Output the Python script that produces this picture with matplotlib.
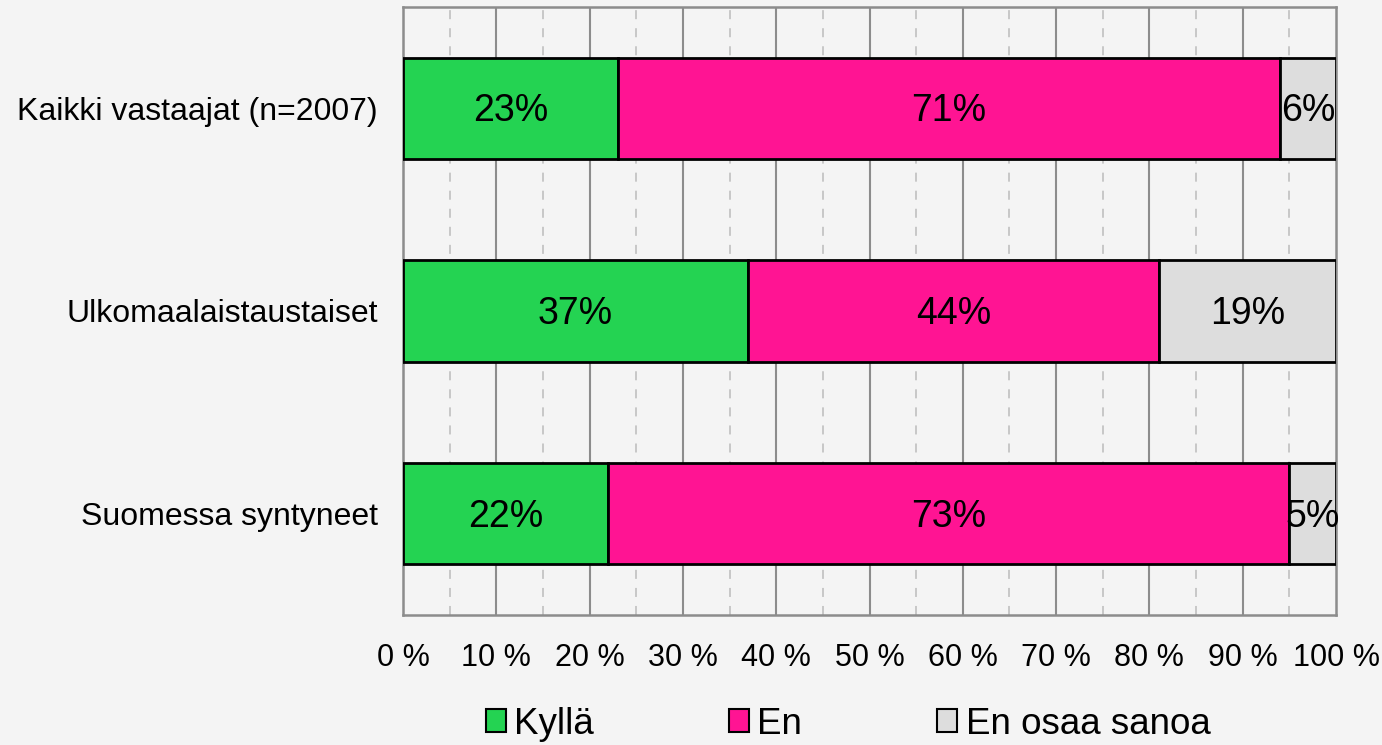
import matplotlib
matplotlib.use('Agg')
import matplotlib.pyplot as plt
from matplotlib.patches import Patch

plt.rcParams['font.family'] = ['Liberation Sans', 'DejaVu Sans']

# Kysely: vastausjakaumat ryhmittäin (%)
groups = ['Kaikki vastaajat (n=2007)', 'Ulkomaalaistaustaiset', 'Suomessa syntyneet']
series_names = ['Kyllä', 'En', 'En osaa sanoa']
kylla = [23, 37, 22]
en = [71, 44, 73]
eos = [6, 19, 5]
tick_vals = [0, 10, 20, 30, 40, 50, 60, 70, 80, 90, 100]

COLORS = ['#24D352', '#FF1493', '#DDDDDD']
BG = '#F4F4F4'

fig = plt.figure(figsize=(13.82, 7.45), dpi=100, facecolor=BG)
ax = fig.add_axes([403 / 1382, 1 - 615 / 745, 933 / 1382, 608 / 745])
ax.set_facecolor(BG)

ypos = list(range(len(groups)))
left = [0] * len(groups)
for vals, col in zip([kylla, en, eos], COLORS):
    bars = ax.barh(ypos, vals, left=left, height=0.5, color=col,
                   edgecolor='black', linewidth=2, zorder=3)
    for b, v, l in zip(bars, vals, left):
        # pieni siirto alaspäin, jotta numerot osuvat palkin keskelle
        ax.text(l + v / 2, b.get_y() + b.get_height() / 2 + 0.015, f'{v}%',
                ha='center', va='center', fontsize=27, color='black', zorder=4)
    left = [a + b for a, b in zip(left, vals)]

ax.set_xlim(0, 100)
ax.set_ylim(2.5, -0.5)

# ruudukko: kiinteät viivat 10 %:n välein, katkoviivat välissä
for x in range(5, 100, 10):
    ax.axvline(x, color='#C4C4C4', linewidth=1.3, linestyle=(0, (5, 5)), zorder=1)
for x in range(10, 100, 10):
    ax.axvline(x, color='#8C8C8C', linewidth=1.5, zorder=1)

for side in ['left', 'right', 'top', 'bottom']:
    ax.spines[side].set_color('#8C8C8C')
    ax.spines[side].set_linewidth(1.8)
    ax.spines[side].set_zorder(2)

ax.set_xticks(tick_vals)
ax.set_xticklabels([f'{t} %' for t in tick_vals], fontsize=22)
ax.set_yticks(ypos)
ax.set_yticklabels(groups, fontsize=23)
ax.tick_params(axis='x', length=0, pad=20)
ax.tick_params(axis='y', length=0, pad=18)

handles = [Patch(facecolor=c, edgecolor='black', linewidth=1.5) for c in COLORS]
fig.legend(handles, series_names, loc='center', bbox_to_anchor=(848 / 1382, 1 - 724 / 745),
           ncol=3, frameon=False, fontsize=26.5, handlelength=0.55, handleheight=0.55,
           handletextpad=0.22, columnspacing=3.67)

fig.savefig('out.png', dpi=100, facecolor=BG)
